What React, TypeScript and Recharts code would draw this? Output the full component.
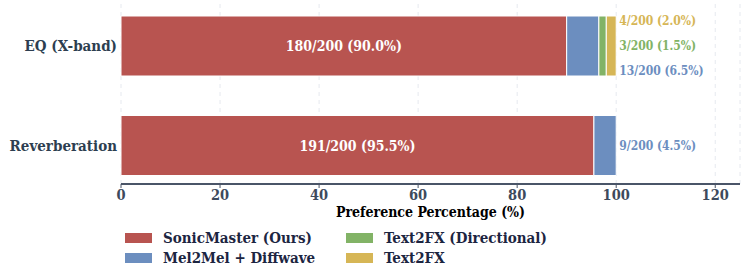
import { BarChart, Bar, XAxis, YAxis, CartesianGrid, LabelList } from "recharts";

const TASKS = ["EQ (X-band)", "Reverberation"];
const SONIC = [90.0, 95.5];
const MEL = [6.5, 4.5];
const T2FX_DIR = [1.5, 0];
const T2FX = [2.0, 0];
const SONIC_N = [180, 191];
const MEL_N = [13, 9];
const T2FX_DIR_N = [3, 0];
const T2FX_N = [4, 0];
const TOTAL = 200;
const X_TICKS = [0, 20, 40, 60, 80, 100, 120];

const SERIES = [
  { key: "sonic", name: "SonicMaster (Ours)", color: "#b85450" },
  { key: "mel", name: "Mel2Mel + Diffwave", color: "#6c8ebf" },
  { key: "dir", name: "Text2FX (Directional)", color: "#82b366" },
  { key: "t2fx", name: "Text2FX", color: "#d6b656" },
];

const data = TASKS.map((task, i) => ({
  task,
  sonic: SONIC[i],
  mel: MEL[i],
  dir: T2FX_DIR[i],
  t2fx: T2FX[i],
  counts: { sonic: SONIC_N[i], mel: MEL_N[i], dir: T2FX_DIR_N[i], t2fx: T2FX_N[i] },
}));

const FONT = "'DejaVu Serif Condensed', 'DejaVu Serif', serif";
const fmt = (n: number) => `${n}/${TOTAL} (${((n / TOTAL) * 100).toFixed(1)}%)`;

function RowLabels(props: any) {
  const { x, y, width, height, value, index } = props;
  const row = data[index];
  const cy = y + height / 2;
  const pxPerUnit = width / value;
  const total = row.sonic + row.mel + row.dir + row.t2fx;
  const endX = x + pxPerUnit * total + 3;
  const side = ["t2fx", "dir", "mel"]
    .filter((k) => (row.counts as any)[k] > 0)
    .map((k) => SERIES.find((s) => s.key === k)!);
  return (
    <g style={{ fontFamily: FONT, fontWeight: "bold", fontStretch: "condensed" }}>
      <text x={x + width / 2} y={cy} fill="#fff" fontSize={14} textAnchor="middle" dominantBaseline="central">
        {fmt(row.counts.sonic)}
      </text>
      {side.map((s, j) => (
        <text
          key={s.key}
          x={endX}
          y={cy + (j - (side.length - 1) / 2) * 25}
          fill={s.color}
          fontSize={12}
          dominantBaseline="central"
        >
          {fmt((row.counts as any)[s.key])}
        </text>
      ))}
    </g>
  );
}

function Legend() {
  const cols = [
    [SERIES[0], SERIES[1]],
    [SERIES[2], SERIES[3]],
  ];
  const colX = [125, 346];
  return (
    <>
      {cols.map((col, ci) =>
        col.map((s, ri) => (
          <div
            key={s.key}
            style={{
              position: "absolute",
              left: colX[ci],
              top: 238 + ri * 20 - 10,
              height: 20,
              display: "flex",
              alignItems: "center",
              fontFamily: FONT,
              fontStretch: "condensed",
              fontWeight: "bold",
              fontSize: 15,
              color: "#1c2541",
              whiteSpace: "nowrap",
            }}
          >
            <span style={{ display: "inline-block", width: 27, height: 10, background: s.color, marginRight: 11 }} />
            {s.name}
          </div>
        ))
      )}
    </>
  );
}

export default function App() {
  return (
    <div style={{ position: "absolute", left: 0, top: 0, width: 748, height: 279, background: "#fff" }}>
      <BarChart
        width={748}
        height={279}
        data={data}
        layout="vertical"
        margin={{ top: -4, right: 8, bottom: 0, left: 0 }}
        barSize={60}
        style={{ fontStretch: "condensed" }}
      >
        <CartesianGrid horizontal={false} vertical strokeDasharray="4 4" stroke="#e6e9ef" />
        <XAxis
          type="number"
          domain={[0, 125]}
          ticks={X_TICKS}
          height={95}
          tickSize={4}
          stroke="#4a5568"
          axisLine={{ stroke: "#4a5568", strokeWidth: 2 }}
          tick={{ fill: "#3d4a5c", fontSize: 14.5, fontWeight: "bold", fontFamily: FONT }}
          label={{
            value: "Preference Percentage (%)",
            position: "insideTop",
            offset: 23,
            fill: "#000",
            fontSize: 14,
            fontWeight: "bold",
            fontFamily: FONT,
          }}
        />
        <YAxis
          type="category"
          dataKey="task"
          width={121}
          axisLine={false}
          tickLine={false}
          padding={{ top: 0, bottom: -11 }}
          tick={{ fill: "#2d3e50", fontSize: 15, fontWeight: "bold", fontFamily: FONT, dx: 4 }}
        />
        {SERIES.map((s) => (
          <Bar key={s.key} dataKey={s.key} name={s.name} stackId="a" fill={s.color} stroke="#fff" strokeWidth={1} isAnimationActive={false}>
            {s.key === "sonic" && <LabelList dataKey="sonic" content={RowLabels} />}
          </Bar>
        ))}
      </BarChart>
      <Legend />
    </div>
  );
}
